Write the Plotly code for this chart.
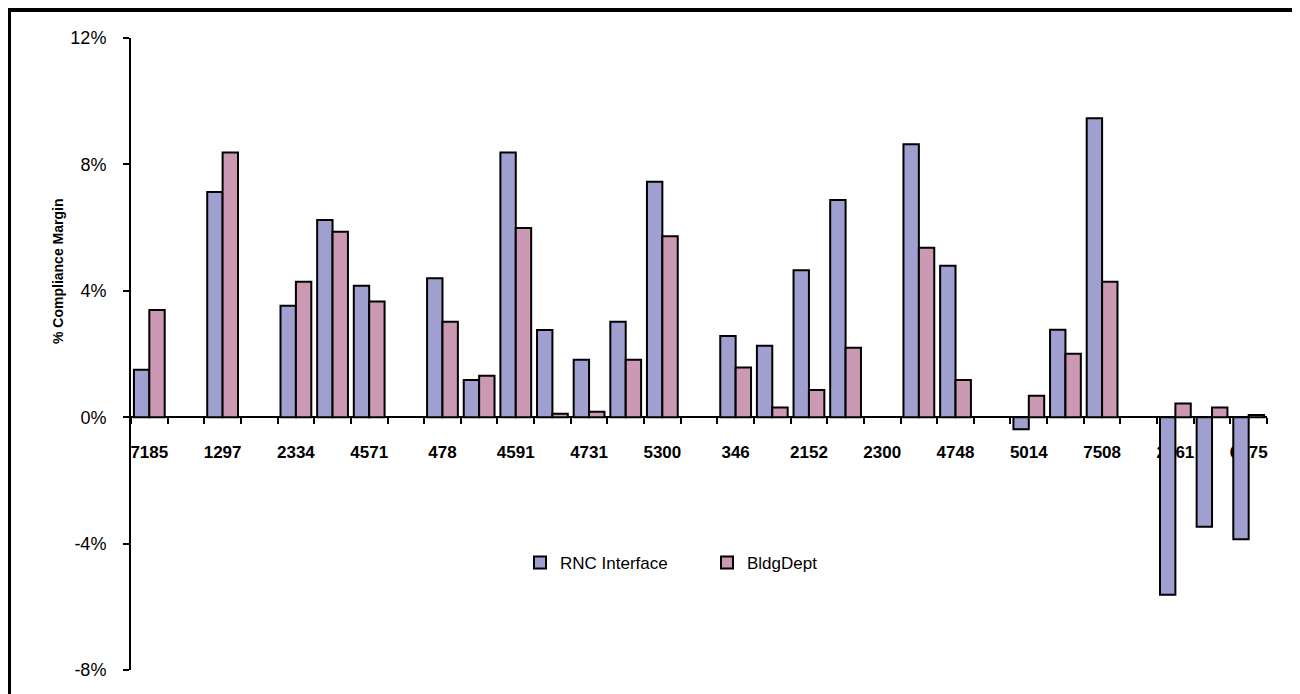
import plotly.graph_objects as go

# ---- data ----
categories = ["7185", "", "1297", "", "2334", "", "4571", "", "478", "", "4591", "",
              "4731", "", "5300", "", "346", "", "2152", "", "2300", "", "4748", "",
              "5014", "", "7508", "", "2161", "", "6575"]
rnc_interface = [1.50, None, 7.13, None, 3.53, 6.24, 4.16, None, 4.40, 1.18, 8.38, 2.76,
                 1.82, 3.02, 7.45, None, 2.57, 2.26, 4.65, 6.87, None, 8.64, 4.79, None,
                 -0.38, 2.77, 9.46, None, -5.62, -3.47, -3.86]
bldg_dept = [3.39, None, 8.38, None, 4.29, 5.87, 3.66, None, 3.02, 1.31, 5.99, 0.11,
             0.17, 1.82, 5.73, None, 1.57, 0.31, 0.86, 2.20, None, 5.36, 1.18, None,
             0.68, 2.01, 4.29, None, 0.43, 0.31, 0.07]
y_ticks = [-8, -4, 0, 4, 8, 12]
y_title = "% Compliance Margin"

# ---- layout constants ----
PAGE_OFF = 8                      # default body margin of the html page
W, H = 1300 - PAGE_OFF, 694 - PAGE_OFF
ML, MR, MT, MB = 123, 33, 30, 24
PW, PH = W - ML - MR, H - MT - MB
FONT = "Liberation Sans, Arial, sans-serif"
C_RNC = "#A0A0D0"
C_BLDG = "#CC99B4"

n = len(categories)
x = list(range(n))
y_min, y_max = y_ticks[0], y_ticks[-1]
zero_pos = (0 - y_min) / (y_max - y_min)


def px_x(p):
    return (p - PAGE_OFF - ML) / PW


def px_y(p):
    return (H - MB - (p - PAGE_OFF)) / PH


fig = go.Figure()
fig.add_trace(go.Bar(x=x, y=rnc_interface, name="RNC Interface",
                     marker=dict(color=C_RNC, line=dict(color="black", width=2))))
fig.add_trace(go.Bar(x=x, y=bldg_dept, name="BldgDept",
                     marker=dict(color=C_BLDG, line=dict(color="black", width=2))))

fig.update_layout(
    width=W, height=H,
    margin=dict(l=ML, r=MR, t=MT, b=MB, autoexpand=False),
    paper_bgcolor="white", plot_bgcolor="white",
    barmode="group", bargap=0.16, bargroupgap=0,
    font=dict(family=FONT, color="black"),
    showlegend=True,
    legend=dict(orientation="h", x=px_x(520), y=px_y(563), xanchor="left", yanchor="middle",
                font=dict(size=17, family=FONT, color="black"),
                entrywidth=142, bgcolor="rgba(0,0,0,0)"),
    xaxis=dict(
        range=[-0.5, n - 0.5], tickmode="array", tickvals=x, ticktext=categories,
        ticks="outside", ticklen=19, tickcolor="rgba(0,0,0,0)",
        tickfont=dict(size=17, family=FONT, color="black", weight="bold"),
        showline=True, linecolor="black", linewidth=2,
        anchor="free", position=zero_pos, layer="below traces",
        showgrid=False, zeroline=False, fixedrange=True, automargin=False,
        minor=dict(tickmode="array", tickvals=[i - 0.5 for i in range(n + 1)],
                   ticks="outside", ticklen=6, tickwidth=2, tickcolor="black", showgrid=False),
    ),
    yaxis=dict(
        range=[y_min, y_max], tickmode="array", tickvals=y_ticks,
        ticktext=[f"{v}%" for v in y_ticks],
        ticks="outside", ticklen=6, tickwidth=2, tickcolor="black",
        tickfont=dict(size=18, family=FONT, color="black"),
        ticklabelstandoff=13, automargin=False,
        showline=True, linecolor="black", linewidth=2,
        showgrid=False, zeroline=False,
    ),
    annotations=[dict(text=y_title, xref="paper", yref="paper",
                      x=px_x(58), y=px_y(272), xanchor="center", yanchor="middle",
                      textangle=-90, showarrow=False,
                      font=dict(size=14, family=FONT, color="black", weight="bold"))],
    shapes=[dict(type="rect", xref="paper", yref="paper",
                 x0=px_x(9), x1=px_x(1298.5), y0=px_y(705), y1=px_y(10),
                 line=dict(color="black", width=4), fillcolor="rgba(0,0,0,0)", layer="above")],
)

fig.write_html("out.html")
